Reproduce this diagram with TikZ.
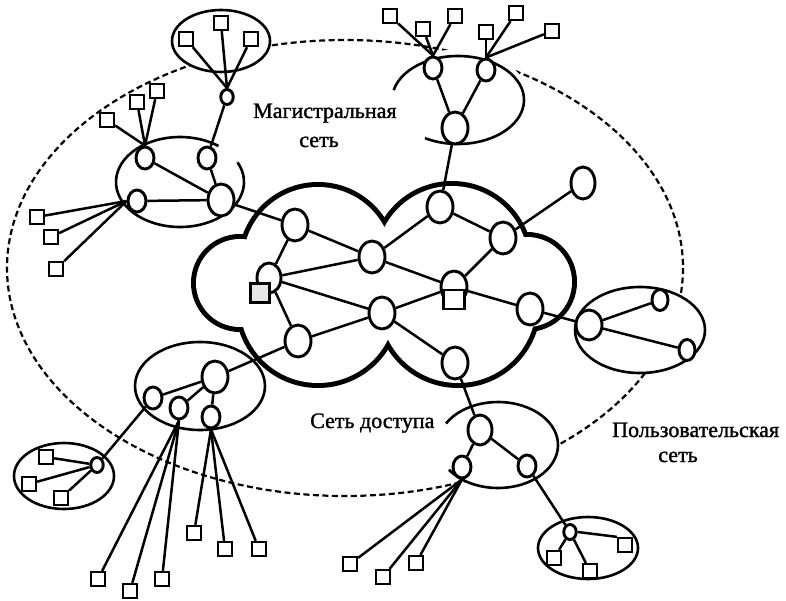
\documentclass[tikz,border=0pt]{standalone}
\usepackage{fontspec}
\setmainfont{Liberation Serif}
\newfontfamily\lblfont{Liberation Serif}[BoldFont=Liberation Serif,BoldFeatures={FakeBold=1.3}]
\usetikzlibrary{shapes.geometric}
\begin{document}
\begin{tikzpicture}[x=1pt,y=-1pt,
  lw/.style={line width=2.5pt},
  vx/.style={ellipse,draw,fill=white,inner sep=0pt,line width=2.9pt},
  big/.style={vx,minimum width=26pt,minimum height=32pt},
  med/.style={vx,minimum width=18pt,minimum height=22pt},
  sml/.style={vx,minimum width=12.5pt,minimum height=15pt},
  sq/.style={rectangle,draw,fill=white,inner sep=0pt,minimum size=14pt,line width=2.3pt},
  grp/.style={line width=2.6pt},
  cloudline/.style={line width=10pt},
  lbl/.style={font=\lblfont\bfseries\fontsize{22}{26}\selectfont,inner sep=0pt}
]
\useasboundingbox (0,0) rectangle (786,601);
% outer dashed boundary
\draw[line width=2.2pt,dash pattern=on 6pt off 3.5pt] (345,268) ellipse[x radius=338,y radius=228];
% white fills of group ellipses
\fill[white] (221,41) ellipse[x radius=49,y radius=31];
\fill[white] (180,182) ellipse[x radius=64,y radius=45];
\fill[white] (460,97) ellipse[x radius=67,y radius=48];
\fill[white] (200,386) ellipse[x radius=65,y radius=44];
\fill[white] (64,476) ellipse[x radius=50,y radius=33];
\fill[white] (498,445) ellipse[x radius=60,y radius=43];
\fill[white] (588,548) ellipse[x radius=50,y radius=31];
\fill[white] (640,330) ellipse[x radius=65,y radius=43];
% cloud (outline of a union of circles)
\draw[cloudline] (318,262) circle[radius=75];
\draw[cloudline] (240,283) circle[radius=44];
\draw[cloudline] (318,305) circle[radius=78];
\draw[cloudline] (458,305) circle[radius=78];
\draw[cloudline] (527,282) circle[radius=45];
\draw[cloudline] (452,262) circle[radius=76];
\fill[white] (318,262) circle[radius=75];
\fill[white] (240,283) circle[radius=44];
\fill[white] (318,305) circle[radius=78];
\fill[white] (458,305) circle[radius=78];
\fill[white] (527,282) circle[radius=45];
\fill[white] (452,262) circle[radius=76];
% group outlines
\draw[grp] (221,41) ellipse[x radius=49,y radius=31];
\draw[grp] (180,182) ++(-26:64 and 45) arc[start angle=-26,end angle=307,x radius=64,y radius=45];
\draw[grp] (458,100) ++(-167:66 and 44) arc[start angle=-167,end angle=120,x radius=66,y radius=44];
\draw[grp] (200,386) ellipse[x radius=65,y radius=44];
\draw[grp] (64,476) ellipse[x radius=50,y radius=33];
\draw[grp] (498,445) ++(-150:60 and 43) arc[start angle=-150,end angle=145,x radius=60,y radius=43];
\draw[grp] (588,548) ellipse[x radius=50,y radius=31];
\draw[grp] (640,330) ellipse[x radius=65,y radius=43];
% cloud nodes
\node[big] (n1) at (295,225) {};
\node[big] (n2) at (372,257) {};
\node[big] (n3) at (440,207) {};
\node[big] (n4) at (503,238) {};
\node[vx,minimum width=24pt,minimum height=30pt] (n5) at (269,278) {};
\node[big] (n6) at (382,313) {};
\node[big] (n7) at (454,287) {};
\node[big] (n8) at (530,309) {};
\node[big] (n9) at (298,341) {};
\node[big] (n10) at (455,363) {};
\node[vx,minimum width=24pt,minimum height=32pt] (n11) at (583,183) {};
% top-left group
\node[med] (L1) at (145,158) {};
\node[med] (L2) at (207,158) {};
\node[med] (L3) at (137,201) {};
\node[big] (L4) at (221,200) {};
\node[sml] (Lt) at (227,97) {};
\node[sq] (sqa) at (186,39) {};
\node[sq] (sqb) at (221,23) {};
\node[sq] (sqc) at (251,39) {};
\node[sq] (sqd) at (107,120) {};
\node[sq] (sqe) at (137,102) {};
\node[sq] (sqf) at (157,91) {};
\node[sq] (sqg) at (37,217) {};
\node[sq] (sqh) at (51,237) {};
\node[sq] (sqi) at (56,269) {};
% top-right group
\node[big] (T0) at (455,128) {};
\node[med] (T1) at (433,68) {};
\node[med] (T2) at (486,70) {};
\node[sq] (tqa) at (390,16) {};
\node[sq] (tqb) at (423,29) {};
\node[sq] (tqc) at (455,16) {};
\node[sq] (tqd) at (486,32) {};
\node[sq] (tqe) at (516,13) {};
\node[sq] (tqf) at (552,31) {};
% bottom-left group
\node[big] (M0) at (215,377) {};
\node[med] (M1) at (153,398) {};
\node[med] (M2) at (179,408) {};
\node[med] (M3) at (211,417) {};
\node[sml] (Mf) at (97,465) {};
\node[sq] (fqa) at (46,457) {};
\node[sq] (fqb) at (29,484) {};
\node[sq] (fqc) at (61,498) {};
\node[sq] (mqa) at (98,579) {};
\node[sq] (mqb) at (130,591) {};
\node[sq] (mqc) at (162,579) {};
\node[sq] (mqd) at (194,533) {};
\node[sq] (mqe) at (225,549) {};
\node[sq] (mqf) at (259,549) {};
% access group
\node[vx,minimum width=24pt,minimum height=30pt] (A0) at (480,430) {};
\node[med] (A1) at (462,467) {};
\node[med] (A2) at (527,466) {};
\node[sq] (aqa) at (350,564) {};
\node[sq] (aqb) at (383,577) {};
\node[sq] (aqc) at (416,563) {};
\node[sml] (B0) at (570,532) {};
\node[sq] (bqa) at (554,558) {};
\node[sq] (bqb) at (590,571) {};
\node[sq] (bqc) at (625,545) {};
% user group
\node[vx,minimum width=26pt,minimum height=30pt] (U0) at (589,325) {};
\node[vx,minimum width=16pt,minimum height=21pt] (U1) at (660,300) {};
\node[vx,minimum width=16pt,minimum height=21pt] (U2) at (687,350) {};
% edges
\begin{scope}[lw]
\draw (n1) -- (n2); \draw (n1) -- (n5); \draw (n5) -- (n2); \draw (n5) -- (n6);
\draw (n5) -- (n9); \draw (n9) -- (n6); \draw (n2) -- (n3); \draw (n2) -- (n7);
\draw (n3) -- (n4); \draw (n4) -- (n7); \draw (n6) -- (n7); \draw (n6) -- (n10);
\draw (n7) -- (n8); \draw (n4) -- (n11); \draw (n8) -- (U0); \draw (n1) -- (L4);
\draw (n9) -- (M0); \draw (n10) -- (A0); \draw (n3) -- (T0);
\draw (L1) -- (L4); \draw (L3) -- (L4); \draw (L2) -- (L4); \draw (L2) -- (Lt);
\draw (Lt.north) -- (sqa); \draw (Lt.north) -- (sqb); \draw (Lt.north) -- (sqc);
\draw (L1.north) -- (sqd); \draw (L1.north) -- (sqe); \draw (L1.north) -- (sqf);
\draw (L3.west) -- (sqg); \draw (L3.west) -- (sqh); \draw (L3.west) -- (sqi);
\draw (T1) -- (T0); \draw (T2) -- (T0);
\draw (T1.north) -- (tqa); \draw (T1.north) -- (tqb); \draw (T1.north) -- (tqc);
\draw (T2.north) -- (tqd); \draw (T2.north) -- (tqe); \draw (T2.north) -- (tqf);
\draw (M1) -- (M0); \draw (M2) -- (M0); \draw (M3) -- (M0); \draw (M1) -- (Mf);
\draw (Mf) -- (fqa); \draw (Mf) -- (fqb); \draw (Mf) -- (fqc);
\draw (M2.south) -- (mqa); \draw (M2.south) -- (mqb); \draw (M2.south) -- (mqc);
\draw (M3.south) -- (mqd); \draw (M3.south) -- (mqe); \draw (M3.south) -- (mqf);
\draw (A0) -- (A1); \draw (A0) -- (A2);
\draw (A1.south) -- (aqa); \draw (A1.south) -- (aqb); \draw (A1.south) -- (aqc);
\draw (A2) -- (B0);
\draw (B0) -- (bqa); \draw (B0) -- (bqb); \draw (B0.east) -- (bqc.north west);
\draw (U0) -- (U1); \draw (U0) -- (U2);
\end{scope}
% terminal squares attached to cloud nodes
\node[sq,fill=gray!20,minimum size=19pt] (n5s) at (260,293) {};
\node[sq,minimum width=21pt,minimum height=19pt] (n7s) at (454,299.5) {};
% labels
\node[lbl,anchor=base west] (tmag) at (253,118) {Магистральная};
\node[lbl,anchor=base] (tmag2) at (319,147) {сеть};
\node[lbl,anchor=base west] (tacc) at (310,428) {Сеть доступа};
\node[lbl,anchor=base west] (tusr) at (612,437) {Пользовательская};
\node[lbl,anchor=base] (tusr2) at (678,462) {сеть};
\end{tikzpicture}
\end{document}
